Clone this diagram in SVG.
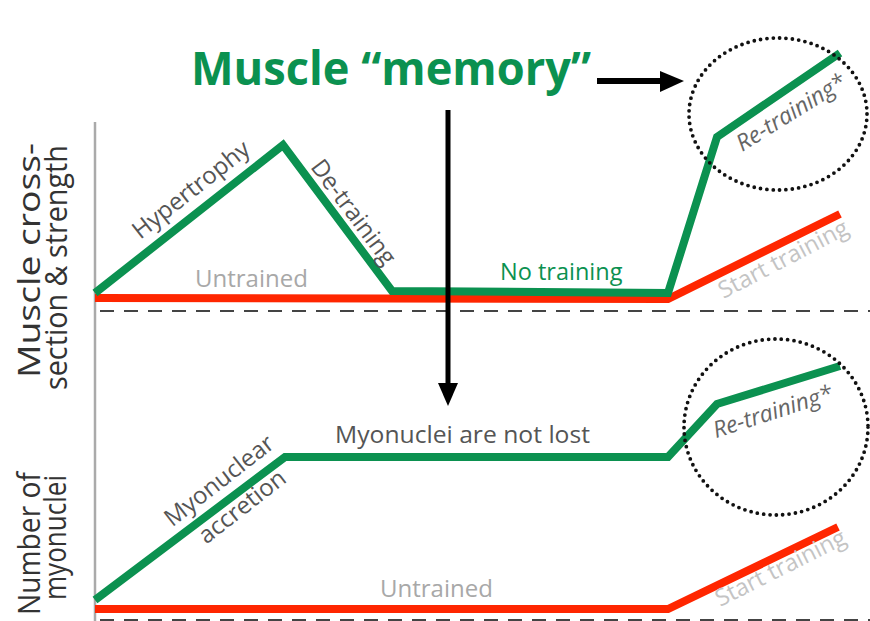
<svg xmlns="http://www.w3.org/2000/svg" width="870" height="621" viewBox="0 0 870 621">
<defs>
<style>
.t{font-family:"Open Sans","Liberation Sans",sans-serif;}
.grn{fill:none;stroke:#0b9150;stroke-width:8;stroke-linejoin:miter;}
.red{fill:none;stroke:#ff2600;stroke-width:8;}
.dash{fill:none;stroke:#444;stroke-width:2;stroke-dasharray:14 10;}
.dot{fill:none;stroke:#111;stroke-width:3.8;stroke-linecap:round;stroke-dasharray:0 6.4;}
.lbl{font-size:24px;fill:#555;}
.lt{font-size:24px;fill:#a8a8a8;}
.ax{font-size:31px;fill:#333;}
.re{font-size:23px;font-style:italic;fill:#666;}
.st{font-size:23.5px;fill:#c4c4c4;}
</style>
</defs>
<rect width="870" height="621" fill="#fff"/>
<g id="axes">
<line x1="95" y1="122" x2="95" y2="621" stroke="#aaa" stroke-width="2.5"/>
<line class="dash" x1="100" y1="311" x2="870" y2="311"/>
<line class="dash" x1="100" y1="620" x2="870" y2="620"/>
</g>
<g id="upper-lines">
<polyline class="red" points="95,298 668,299 840,214"/>
<polyline class="grn" points="95,293 283,145 392,291 668,293 717,137 840,53"/>
</g>
<g id="lower-lines">
<polyline class="red" points="95,609 668,609 838,527"/>
<polyline class="grn" points="95,600 285,457 668,457 717,404 840,366"/>
</g>
<g id="circles">
<ellipse class="dot" cx="778" cy="114" rx="89" ry="76"/>
<ellipse class="dot" cx="776" cy="427" rx="92" ry="88"/>
</g>
<g id="connectors">
<line x1="597" y1="81" x2="662" y2="81" stroke="#000" stroke-width="6"/>
<polygon points="660,71 684,81 660,92" fill="#000"/>
<line x1="448" y1="110" x2="448" y2="386" stroke="#000" stroke-width="5"/>
<polygon points="438,383 448,406 458,383" fill="#000"/>
</g>
<g id="title">
<text class="t" x="191" y="85" font-size="46" font-weight="bold" fill="#0b9150" textLength="400" lengthAdjust="spacingAndGlyphs">Muscle “memory”</text>
</g>
<g id="y-labels">
<text class="t ax" transform="translate(40,378) rotate(-90)" textLength="235" lengthAdjust="spacingAndGlyphs">Muscle cross-</text>
<text class="t ax" transform="translate(67,390) rotate(-90)" textLength="245" lengthAdjust="spacingAndGlyphs">section &amp; strength</text>
<text class="t ax" transform="translate(40,615) rotate(-90)" textLength="143" lengthAdjust="spacingAndGlyphs">Number of</text>
<text class="t ax" transform="translate(66,600) rotate(-90)" textLength="125" lengthAdjust="spacingAndGlyphs">myonuclei</text>
</g>
<g id="upper-labels">
<text class="t lbl" text-anchor="middle" transform="translate(196,196) rotate(-38.2)">Hypertrophy</text>
<text class="t lbl" text-anchor="middle" transform="translate(347,217) rotate(53.3)">De-training</text>
<text class="t lt" x="195" y="287">Untrained</text>
<text class="t" x="500" y="280" font-size="23.5" fill="#0b9150">No training</text>
<text class="t re" text-anchor="middle" transform="translate(795,119) rotate(-32)">Re-training*</text>
<text class="t st" text-anchor="middle" transform="translate(787,266) rotate(-27.5)">Start training</text>
</g>
<g id="lower-labels">
<text class="t lbl" text-anchor="middle" transform="translate(224,487) rotate(-38)">Myonuclear</text>
<text class="t lbl" text-anchor="middle" transform="translate(247,513) rotate(-38)">accretion</text>
<text class="t lbl" x="335" y="443" textLength="255" lengthAdjust="spacingAndGlyphs">Myonuclei are not lost</text>
<text class="t lt" x="380" y="597">Untrained</text>
<text class="t re" text-anchor="middle" transform="translate(775,419) rotate(-18)">Re-training*</text>
<text class="t st" text-anchor="middle" transform="translate(784,575) rotate(-26.7)">Start training</text>
</g>
</svg>
